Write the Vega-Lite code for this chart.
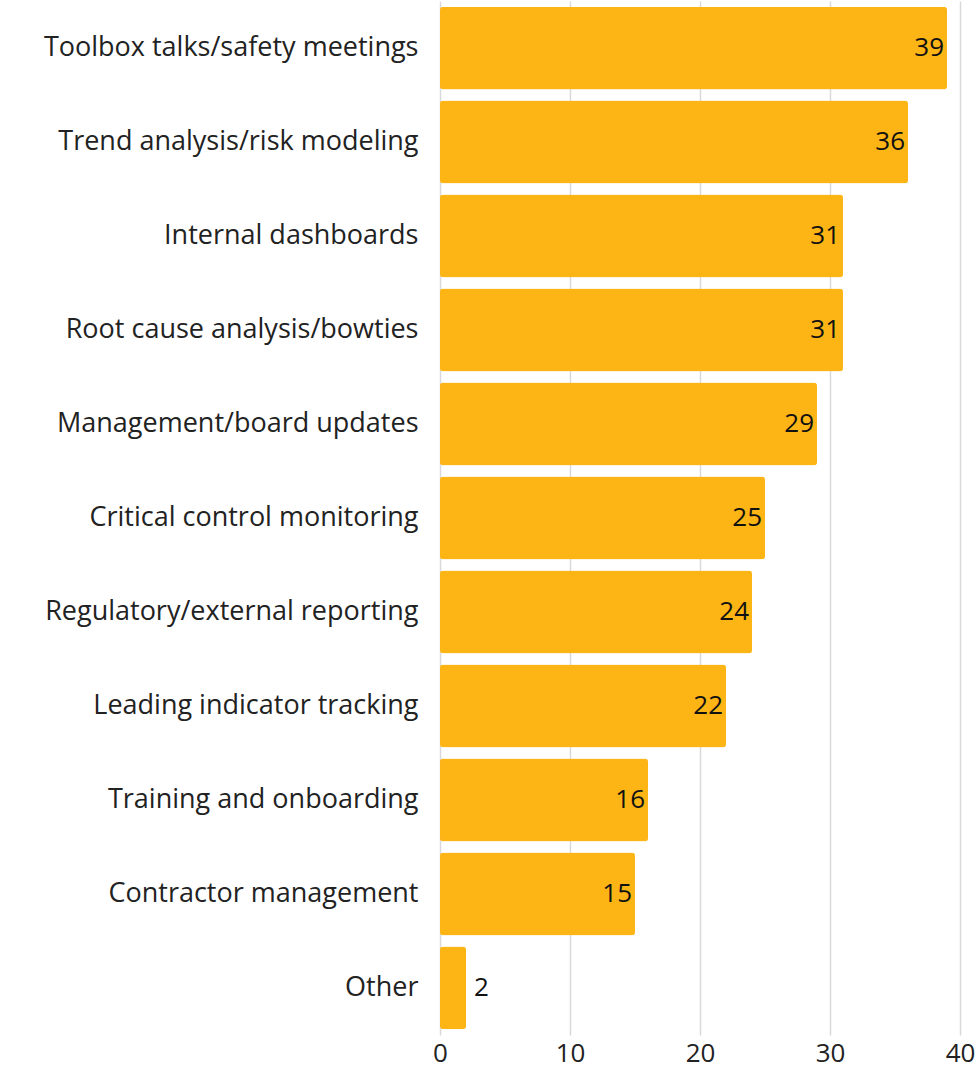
{
  "$schema": "https://vega.github.io/schema/vega-lite/v6.json",
  "autosize": {"type": "none"},
  "padding": {"left": 440, "top": 1, "right": 20, "bottom": 36},
  "width": 520,
  "height": 1034,
  "background": "white",
  "config": {
    "view": {"stroke": null},
    "font": "Open Sans",
    "axis": {"labelFont": "Open Sans", "labelColor": "#222222"}
  },
  "data": {
    "values": [
      {"category": "Toolbox talks/safety meetings", "value": 39},
      {"category": "Trend analysis/risk modeling", "value": 36},
      {"category": "Internal dashboards", "value": 31},
      {"category": "Root cause analysis/bowties", "value": 31},
      {"category": "Management/board updates", "value": 29},
      {"category": "Critical control monitoring", "value": 25},
      {"category": "Regulatory/external reporting", "value": 24},
      {"category": "Leading indicator tracking", "value": 22},
      {"category": "Training and onboarding", "value": 16},
      {"category": "Contractor management", "value": 15},
      {"category": "Other", "value": 2}
    ]
  },
  "encoding": {
    "y": {
      "field": "category",
      "type": "nominal",
      "sort": null,
      "scale": {"paddingInner": 0.117, "paddingOuter": 0.06},
      "axis": {
        "title": null,
        "domain": false,
        "ticks": false,
        "labelFontSize": 27,
        "labelPadding": 22,
        "labelLimit": 440
      }
    },
    "x": {
      "field": "value",
      "type": "quantitative",
      "scale": {"domain": [0, 40], "nice": false},
      "axis": {
        "title": null,
        "values": [0, 10, 20, 30, 40],
        "domain": false,
        "ticks": false,
        "labelFontSize": 26,
        "labelPadding": 5,
        "grid": true,
        "gridColor": "#d9d9d9",
        "gridWidth": 1.5,
        "labelFlush": false
      }
    }
  },
  "layer": [
    {
      "mark": {"type": "bar", "color": "#FDB515", "cornerRadius": 3}
    },
    {
      "transform": [{"filter": "datum.value >= 5"}],
      "mark": {"type": "text", "align": "right", "baseline": "middle", "dx": -3, "fontSize": 26, "color": "#111111"},
      "encoding": {"text": {"field": "value", "type": "quantitative"}}
    },
    {
      "transform": [{"filter": "datum.value < 5"}],
      "mark": {"type": "text", "align": "left", "baseline": "middle", "dx": 8, "fontSize": 26, "color": "#111111"},
      "encoding": {"text": {"field": "value", "type": "quantitative"}}
    }
  ]
}
